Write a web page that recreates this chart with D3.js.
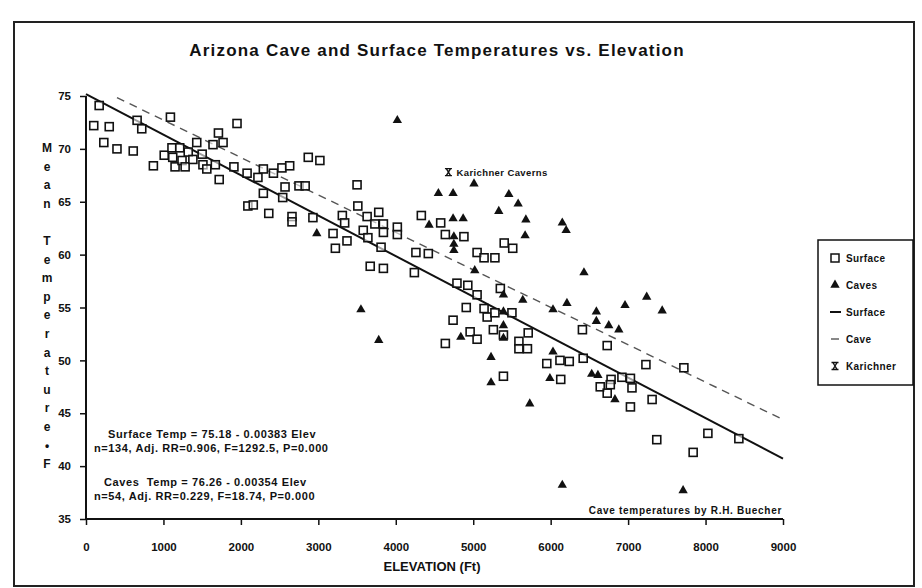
<!DOCTYPE html>
<html>
<head>
<meta charset="utf-8">
<script src="https://cdn.jsdelivr.net/npm/d3@7"></script>
<style>
  body { margin: 0; background: #fff; }
  text { font-family: "Liberation Sans", Arial, sans-serif; font-weight: bold; fill: #111; }
</style>
</head>
<body>
<div id="plot"></div>
<script>
// Surface stations (elevation ft, mean temp F)
const surfaceElev = [
  170,100,300,230,400,610,660,720,1090,870,
  1010,1110,1120,1150,1210,1240,1280,1320,1380,1430,
  1500,1510,1560,1670,1640,1710,1770,1720,1950,1910,
  2080,2220,2290,2290,2420,2530,2630,2570,2540,2750,
  2830,2870,3020,2090,2160,2360,2660,2660,2930,3190,
  3500,3510,3310,3340,3220,3370,3630,3780,3730,3840,
  3580,3640,3840,4020,4020,3810,3670,3840,4240,4260,
  4420,4330,4580,4640,4880,5050,5140,5280,5400,5510,
  4790,4930,5050,5350,4910,4740,5140,5180,5280,5500,
  5260,5390,4960,5050,4640,5710,5590,5590,5700,5950,
  6120,6240,6420,5390,6130,6410,6730,7230,7720,6780,
  6920,7030,6640,6770,6730,7050,7030,7310,7370,7840,
  8030,8430
];
const surfaceTemp = [
  74.1,72.2,72.1,70.6,70.0,69.8,72.7,71.9,73.0,68.4,
  69.4,70.1,69.2,68.3,70.1,68.9,68.3,69.7,69.0,70.6,
  69.5,68.5,68.1,68.5,70.4,71.5,70.6,67.1,72.4,68.3,
  67.7,67.3,68.1,65.8,67.7,68.2,68.4,66.4,65.4,66.5,
  66.5,69.2,68.9,64.6,64.7,63.9,63.6,63.1,63.5,62.0,
  66.6,64.6,63.7,63.0,60.6,61.3,63.6,64.0,62.9,62.9,
  62.3,61.6,62.1,62.6,61.9,60.7,58.9,58.7,58.3,60.2,
  60.1,63.7,63.0,61.9,61.7,60.2,59.7,59.7,61.1,60.6,
  57.3,57.1,56.2,56.8,55.0,53.8,54.9,54.1,54.5,54.5,
  52.9,52.4,52.7,52.0,51.6,52.6,51.8,51.1,51.1,49.7,
  50.0,49.9,50.2,48.5,48.2,52.9,51.4,49.6,49.3,48.2,
  48.4,48.3,47.5,47.7,46.9,47.4,45.6,46.3,42.5,41.3,
  43.1,42.6
];

// Caves
const caveElev = [
  4020,4550,4740,5010,5460,5580,5330,5680,5670,6150,
  6200,4430,4740,4870,4750,4750,4750,5020,2980,6430,
  3550,3780,5390,5640,6030,6210,6590,6590,5390,5390,
  5390,4840,5230,5230,6030,5990,5730,6530,6610,6830,
  6750,6880,6960,7240,7440,6150,7710
];
const caveTemp = [
  72.7,65.8,65.8,66.7,65.7,64.8,64.1,63.3,61.8,63.0,
  62.3,62.8,63.4,63.4,61.7,61.0,60.4,58.5,62.0,58.3,
  54.8,51.9,56.2,55.7,54.8,55.4,54.6,53.7,54.6,53.3,
  52.1,52.2,50.3,47.9,50.8,48.3,45.9,48.7,48.6,46.3,
  53.3,52.9,55.2,56.0,54.7,38.2,37.7
];

const karichner = [4680, 67.8];

// Regression fits (intercept, slope) and elevation span drawn
const surfaceFit = [75.18, -0.00383];
const caveFit = [76.26, -0.00354];
const surfaceSpan = [0, 9000];
const caveSpan = [400, 9000];

const xTicks = [0,1000,2000,3000,4000,5000,6000,7000,8000,9000];
const yTicks = [35,40,45,50,55,60,65,70,75];

const svgWidth = 922, svgHeight = 588;
const svg = d3.select("#plot").append("svg")
  .attr("width", svgWidth).attr("height", svgHeight);

// outer frame
svg.append("rect")
  .attr("x", 14).attr("y", 22).attr("width", 900).attr("height", 564)
  .attr("fill", "none").attr("stroke", "#222").attr("stroke-width", 2);

svg.append("text")
  .attr("x", 437).attr("y", 56)
  .attr("text-anchor", "middle")
  .style("font-size", "17px")
  .style("letter-spacing", "1.2px")
  .text("Arizona Cave and Surface Temperatures vs. Elevation");

const x = d3.scaleLinear().domain([0, 9000]).range([86, 783]);
const y = d3.scaleLinear().domain([35, 75]).range([519, 96]);

// axes
const xAxis = svg.append("g")
  .attr("transform", `translate(0,${y(35)})`)
  .call(d3.axisBottom(x).tickValues(xTicks).tickSize(6).tickPadding(18).tickFormat(d3.format("d")));
const yAxis = svg.append("g")
  .attr("transform", `translate(${x(0)},0)`)
  .call(d3.axisLeft(y).tickValues(yTicks).tickSize(6).tickPadding(9));
[xAxis, yAxis].forEach(g => {
  g.select(".domain").attr("stroke", "#111").attr("stroke-width", 2);
  g.selectAll(".tick line").attr("stroke", "#111").attr("stroke-width", 1.5);
  g.selectAll(".tick text").style("font-size", "11.5px").style("font-weight", "bold")
    .style("font-family", "'Liberation Sans', Arial, sans-serif").attr("fill", "#111");
});
yAxis.select(".domain").attr("d", `M0,${y(75)}V${y(35)}`);
xAxis.select(".domain").attr("d", `M${x(0)},0H${x(9000)}`);

svg.append("text")
  .attr("x", 432).attr("y", 571)
  .attr("text-anchor", "middle")
  .style("font-size", "13px")
  .text("ELEVATION (Ft)");

// stacked y title
const yTitle = ["M","e","a","n","","T","e","m","p","e","r","a","t","u","r","e","\u2022","F"];
svg.append("g").selectAll("text")
  .data(yTitle)
  .enter().append("text")
  .attr("x", 47)
  .attr("y", (d, i) => 152 + i * 18.6)
  .attr("text-anchor", "middle")
  .style("font-size", "12px")
  .text(d => d);

// regression lines
const line = d3.line().x(d => x(d[0])).y(d => y(d[1]));
svg.append("path")
  .datum(surfaceSpan.map(e => [e, surfaceFit[0] + surfaceFit[1] * e]))
  .attr("d", line).attr("fill", "none").attr("stroke", "#111").attr("stroke-width", 2);
svg.append("path")
  .datum(caveSpan.map(e => [e, caveFit[0] + caveFit[1] * e]))
  .attr("d", line).attr("fill", "none").attr("stroke", "#555")
  .attr("stroke-width", 1.4).attr("stroke-dasharray", "8,6");

// surface squares
svg.append("g").selectAll("rect")
  .data(surfaceElev.map((e, i) => [e, surfaceTemp[i]]))
  .enter().append("rect")
  .attr("x", d => x(d[0]) - 4).attr("y", d => y(d[1]) - 4)
  .attr("width", 8).attr("height", 8)
  .attr("fill", "#fff").attr("fill-opacity", 0.6)
  .attr("stroke", "#111").attr("stroke-width", 1.6);

// cave triangles
const tri = d3.symbol().type(d3.symbolTriangle).size(38);
svg.append("g").selectAll("path")
  .data(caveElev.map((e, i) => [e, caveTemp[i]]))
  .enter().append("path")
  .attr("d", tri)
  .attr("transform", d => `translate(${x(d[0])},${y(d[1])})`)
  .attr("fill", "#111");

// Karichner marker
function karMark(g, cx, cy, s) {
  g.append("path")
    .attr("d", `M${cx - s},${cy - s}H${cx + s}M${cx - s},${cy + s}H${cx + s}` +
               `M${cx - s * 0.6},${cy - s}L${cx + s * 0.6},${cy + s}M${cx + s * 0.6},${cy - s}L${cx - s * 0.6},${cy + s}`)
    .attr("stroke", "#111").attr("stroke-width", 1.4).attr("fill", "none");
}
karMark(svg, x(karichner[0]), y(karichner[1]), 3.5);
svg.append("text")
  .attr("x", x(karichner[0]) + 8).attr("y", y(karichner[1]) + 3.5)
  .style("font-size", "9.5px").style("letter-spacing", "0.4px")
  .text("Karichner Caverns");

// equations
const eqs = [
  ["Surface Temp = 75.18 - 0.00383 Elev", 108, 438],
  ["n=134, Adj. RR=0.906, F=1292.5, P=0.000", 94, 452],
  ["Caves  Temp = 76.26 - 0.00354 Elev", 104, 486],
  ["n=54, Adj. RR=0.229, F=18.74, P=0.000", 94, 500]
];
svg.append("g").selectAll("text")
  .data(eqs).enter().append("text")
  .attr("x", d => d[1]).attr("y", d => d[2])
  .style("font-size", "11px").style("letter-spacing", "0.6px").style("white-space", "pre")
  .text(d => d[0]);

svg.append("text")
  .attr("x", 782).attr("y", 514)
  .attr("text-anchor", "end")
  .style("font-size", "10px").style("letter-spacing", "0.7px")
  .text("Cave temperatures by R.H. Buecher");

// legend
const lg = svg.append("g");
lg.append("rect").attr("x", 818).attr("y", 240).attr("width", 95).attr("height", 145)
  .attr("fill", "#fff").attr("stroke", "#111").attr("stroke-width", 1.5);
const legendItems = ["Surface", "Caves", "Surface", "Cave", "Karichner"];
legendItems.forEach((t, i) => {
  const cy = 258 + i * 27;
  if (i === 0) lg.append("rect").attr("x", 831).attr("y", cy - 4).attr("width", 8).attr("height", 8)
      .attr("fill", "#fff").attr("stroke", "#111").attr("stroke-width", 1.5);
  if (i === 1) lg.append("path").attr("d", tri).attr("transform", `translate(835,${cy})`).attr("fill", "#111");
  if (i === 2) lg.append("line").attr("x1", 830).attr("x2", 841).attr("y1", cy).attr("y2", cy)
      .attr("stroke", "#111").attr("stroke-width", 2);
  if (i === 3) lg.append("line").attr("x1", 831).attr("x2", 839).attr("y1", cy).attr("y2", cy)
      .attr("stroke", "#555").attr("stroke-width", 1.4);
  if (i === 4) karMark(lg, 835, cy, 3.5);
  lg.append("text").attr("x", 846).attr("y", cy + 3.5)
    .style("font-size", "10px").style("letter-spacing", "0.4px").text(t);
});
</script>
</body>
</html>
